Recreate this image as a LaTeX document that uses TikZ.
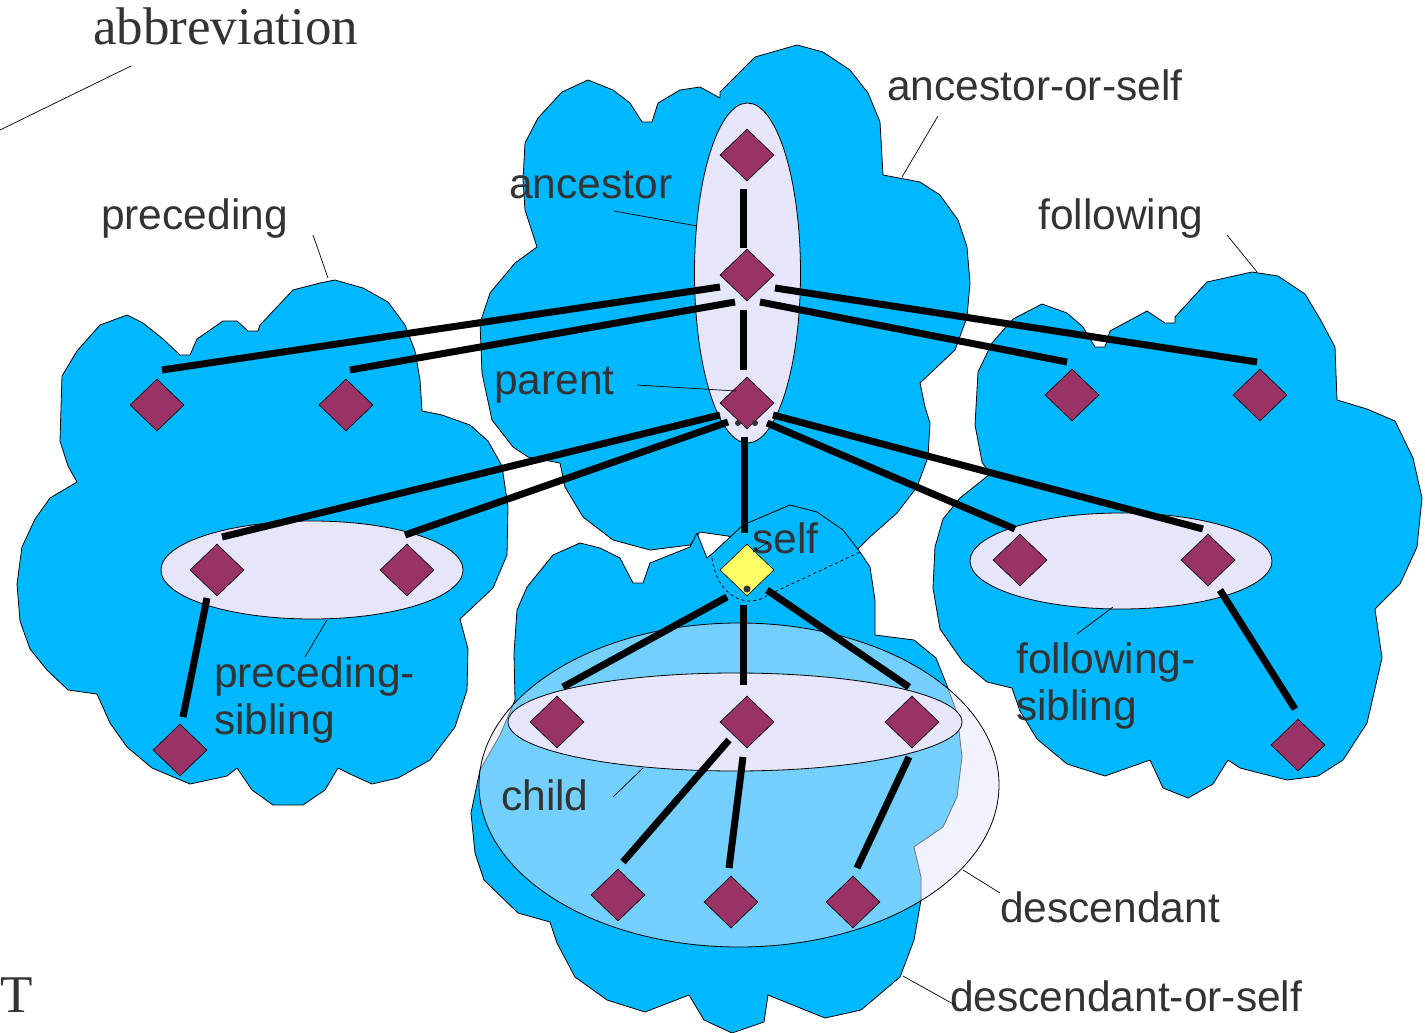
\documentclass[tikz,border=0pt]{standalone}
\usepackage{fontspec}
\newfontfamily\labelfont{Liberation Sans}
\newfontfamily\notefont{Liberation Serif}
\usetikzlibrary{shapes.geometric,calc}
\definecolor{cloudblue}{RGB}{0,184,255}
\definecolor{nodepurple}{RGB}{153,51,102}
\definecolor{setlav}{RGB}{230,230,250}
\definecolor{selfyellow}{RGB}{255,255,102}
\definecolor{labelgray}{RGB}{51,51,51}
\begin{document}
\begin{tikzpicture}[x=1pt,y=-1pt,
  cloudshape/.style={fill=cloudblue,draw=black,line width=0.8pt,line join=round},
  setring/.style={fill=setlav,draw=black,line width=0.8pt},
  treenode/.style={diamond,fill=nodepurple,draw=black,line width=0.6pt,minimum width=54pt,minimum height=52pt,inner sep=0pt},
  selfnode/.style={treenode,fill=selfyellow},
  edge/.style={line width=7pt},
  leader/.style={line width=0.7pt},
  axislabel/.style={font=\labelfont\fontsize{42.5}{47}\selectfont,text=labelgray,inner sep=0pt,anchor=base west},
  seriflabel/.style={font=\notefont\fontsize{53}{57}\selectfont,text=labelgray,inner sep=0pt,anchor=base west},
]
\useasboundingbox (0,0) rectangle (1425,1033);

% ancestor-or-self cloud
\draw[cloudshape] (797,45) -- (823,52) -- (850,70) -- (868,93) -- (880,122) -- (883,175)
  -- (920,182) -- (940,195) -- (958,220) -- (967,247) -- (970,283) -- (967,317) -- (955,350)
  -- (920,383) -- (925,407) -- (930,423) -- (928,457) -- (917,487) -- (897,513) -- (870,537)
  -- (857,550) -- (800,548) -- (755,540) -- (700,532) -- (690,545) -- (650,550) -- (613,540)
  -- (583,517) -- (565,487) -- (560,463) -- (528,457) -- (513,447) -- (492,420) -- (482,373)
  -- (480,323) -- (490,293) -- (515,263) -- (537,247) -- (525,210) -- (523,180) -- (525,143)
  -- (538,118) -- (562,92) -- (588,80) -- (613,90) -- (630,103) -- (642,122) -- (652,122)
  -- (658,103) -- (680,90) -- (700,87) -- (720,98) -- (720,92) -- (755,57) -- cycle;

% preceding cloud
\draw[cloudshape] (335,280) -- (363,288) -- (388,302) -- (405,325) -- (415,351) -- (420,380)
  -- (422,411) -- (442,415) -- (470,425) -- (488,441) -- (502,466) -- (508,507) -- (507,555)
  -- (493,588) -- (460,619) -- (468,649) -- (467,690) -- (455,727) -- (430,760) -- (398,778)
  -- (372,784) -- (350,774) -- (338,768) -- (325,790) -- (303,805) -- (273,805) -- (252,790)
  -- (237,768) -- (227,776) -- (190,784) -- (152,768) -- (127,747) -- (110,723) -- (97,694)
  -- (68,690) -- (47,670) -- (30,649) -- (20,621) -- (17,584) -- (22,547) -- (35,519)
  -- (50,498) -- (77,482) -- (68,466) -- (60,441) -- (62,376) -- (77,351) -- (100,325)
  -- (127,315) -- (143,323) -- (163,339) -- (180,355) -- (190,355) -- (197,339) -- (223,321)
  -- (237,321) -- (248,331) -- (258,331) -- (260,325) -- (293,290) -- (320,283) -- cycle;

% following cloud
\draw[cloudshape] (1252,272) -- (1278,276) -- (1305,294) -- (1320,319) -- (1335,347) -- (1337,400)
  -- (1367,409) -- (1395,421) -- (1413,458) -- (1422,498) -- (1417,547) -- (1400,584) -- (1375,609)
  -- (1382,658) -- (1367,723) -- (1343,760) -- (1318,776) -- (1287,780) -- (1240,768) -- (1228,760)
  -- (1213,784) -- (1188,798) -- (1163,788) -- (1150,760) -- (1105,776) -- (1067,764) -- (1037,739)
  -- (1020,711) -- (1012,688) -- (987,682) -- (963,662) -- (940,629) -- (933,588) -- (935,547)
  -- (943,519) -- (960,498) -- (990,474) -- (982,462) -- (975,425) -- (978,372) -- (992,343)
  -- (1013,319) -- (1042,304) -- (1067,313) -- (1083,327) -- (1095,347) -- (1105,347) -- (1110,331)
  -- (1147,311) -- (1165,323) -- (1175,323) -- (1175,317) -- (1207,282) -- cycle;

% descendant-or-self cloud
\draw[cloudshape] (517,610) -- (527,587) -- (553,555) -- (580,543) -- (600,548) -- (620,558)
  -- (633,583) -- (643,583) -- (650,563) -- (690,547) -- (697,533) -- (707,558) -- (713,553)
  -- (743,525) -- (790,505) -- (817,512) -- (843,530) -- (860,552) -- (870,567) -- (875,600)
  -- (875,635) -- (914,640) -- (936,658) -- (946,683) -- (957,713) -- (962,757) -- (957,797)
  -- (943,827) -- (914,847) -- (921,877) -- (921,900) -- (914,940) -- (900,977) -- (861,1010)
  -- (825,1018) -- (768,995) -- (764,1022) -- (732,1033) -- (704,1020) -- (689,995) -- (645,1012)
  -- (607,1000) -- (575,977) -- (557,943) -- (550,922) -- (518,913) -- (484,880) -- (475,853)
  -- (471,813) -- (480,770) -- (500,735) -- (515,700) -- (514,653) -- cycle;

% axis sets
\draw[setring] (747.5,273) ellipse [x radius=53, y radius=170];
\draw[setring] (312,570) ellipse [x radius=151, y radius=49];
\draw[setring] (1121,561) ellipse [x radius=151, y radius=48];
\draw[setring,fill opacity=0.5] (739,785) ellipse [x radius=260, y radius=162];
\draw[setring] (735,722) ellipse [x radius=227, y radius=49];

% self outline
\draw[dashed,line width=0.8pt] (712,558) .. controls (716,588) and (734,601) .. (750,601)
  .. controls (758,601) and (764,598) .. (768,595) -- (860,552);

% tree nodes
\node[treenode] (A1) at (747,155) {};
\node[treenode] (A2) at (747,275) {};
\node[treenode] (P) at (747,403) {};
\node[selfnode] (S) at (747,570) {};
\node[treenode] (pre1) at (157,405) {};
\node[treenode] (pre2) at (346,405) {};
\node[treenode] (ps1) at (217,570) {};
\node[treenode] (ps2) at (407,570) {};
\node[treenode] (psc) at (180,750) {};
\node[treenode] (fol1) at (1072,395) {};
\node[treenode] (fol2) at (1260,395) {};
\node[treenode] (fs1) at (1020,560) {};
\node[treenode] (fs2) at (1208,560) {};
\node[treenode] (fsc) at (1298,745) {};
\node[treenode] (c1) at (557,722) {};
\node[treenode] (c2) at (747,722) {};
\node[treenode] (c3) at (912,722) {};
\node[treenode] (g1) at (618,895) {};
\node[treenode] (g2) at (731,902) {};
\node[treenode] (g3) at (853,902) {};

% small marks
\fill[labelgray] (738,423) circle [radius=3];
\fill[labelgray] (755,423) circle [radius=3];
\fill[labelgray] (747,589) circle [radius=3.5];

% tree edges
\draw[edge] ($(A1)+(-4,34)$) -- ($(A2)+(-4,-27)$);
\draw[edge] ($(A2)+(-4,35)$) -- ($(P)+(-4,-33)$);
\draw[edge] ($(P)+(-3,34)$) -- ($(S)+(-3,-37)$);
\draw[edge] ($(A2)+(-27,12)$) -- ($(pre1)+(5,-35)$);
\draw[edge] ($(A2)+(-12,27)$) -- ($(pre2)+(4,-35)$);
\draw[edge] ($(A2)+(28,13)$) -- ($(fol2)+(-3,-33)$);
\draw[edge] ($(A2)+(13,27)$) -- ($(fol1)+(-5,-33)$);
\draw[edge] ($(P)+(-27,12)$) -- ($(ps1)+(5,-33)$);
\draw[edge] ($(P)+(-19,19)$) -- ($(ps2)+(-2,-35)$);
\draw[edge] ($(P)+(26,12)$) -- ($(fs2)+(-5,-31)$);
\draw[edge] ($(P)+(20,20)$) -- ($(fs1)+(-5,-31)$);
\draw[edge] ($(ps1)+(-10,28)$) -- ($(psc)+(3,-33)$);
\draw[edge] ($(fs2)+(12,30)$) -- ($(fsc)+(-3,-36)$);
\draw[edge] ($(S)+(-20,27)$) -- ($(c1)+(6,-35)$);
\draw[edge] ($(S)+(-4,35)$) -- ($(c2)+(-4,-37)$);
\draw[edge] ($(S)+(20,20)$) -- ($(c3)+(-3,-35)$);
\draw[edge] ($(c2)+(-18,18)$) -- ($(g1)+(5,-33)$);
\draw[edge] ($(c2)+(-4,35)$) -- ($(g2)+(-2,-34)$);
\draw[edge] ($(c3)+(-3,35)$) -- ($(g3)+(4,-34)$);

% labels
\node[seriflabel] (lAbbr) at (93,45) {abbreviation};
\node[seriflabel] (lT) at (0,1012) {T};
\node[axislabel] (lAos) at (887,100) {ancestor-or-self};
\node[axislabel] (lFol) at (1038,229) {following};
\node[axislabel] (lPre) at (101,229) {preceding};
\node[axislabel] (lAnc) at (509,198) {ancestor};
\node[axislabel] (lPar) at (494,394) {parent};
\node[axislabel] (lSelf) at (752,553) {self};
\node[axislabel] (lPs1) at (214,687) {preceding-};
\node[axislabel] (lPs2) at (214,734) {sibling};
\node[axislabel] (lFs1) at (1016,673) {following-};
\node[axislabel] (lFs2) at (1016,720) {sibling};
\node[axislabel] (lChild) at (501,810) {child};
\node[axislabel] (lDesc) at (1000,922) {descendant};
\node[axislabel] (lDos) at (950,1011) {descendant-or-self};

% leader lines
\coordinate (abbrA) at (131,66);   \coordinate (abbrB) at (0,130);
\coordinate (aosA) at (938,116);   \coordinate (aosB) at (902,177);
\coordinate (folA) at (1227,235);  \coordinate (folB) at (1257,272);
\coordinate (preA) at (313,235);   \coordinate (preB) at (328,278);
\coordinate (ancA) at (614,211);   \coordinate (ancB) at (697,226);
\coordinate (parA) at (637,385);   \coordinate (parB) at (736,391);
\coordinate (psA) at (305,657);    \coordinate (psB) at (327,620);
\coordinate (fsA) at (1077,634);   \coordinate (fsB) at (1113,607);
\coordinate (chA) at (613,797);    \coordinate (chB) at (643,768);
\coordinate (deA) at (1000,893);   \coordinate (deB) at (963,870);
\coordinate (dosA) at (955,1005);  \coordinate (dosB) at (903,976);
\coordinate (selfA) at (768,542);  \coordinate (selfB) at (753,552);
\foreach \a/\b in {abbrA/abbrB,aosA/aosB,folA/folB,preA/preB,ancA/ancB,parA/parB,
                   psA/psB,fsA/fsB,chA/chB,deA/deB,dosA/dosB,selfA/selfB}
  \draw[leader] (\a) -- (\b);
\end{tikzpicture}
\end{document}
